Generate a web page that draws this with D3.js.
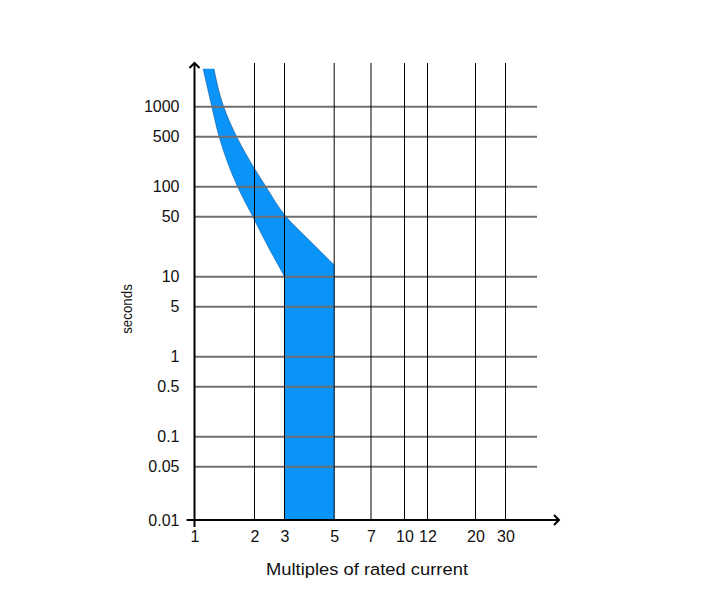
<!DOCTYPE html>
<html><head><meta charset="utf-8">
<script src="https://cdn.jsdelivr.net/npm/d3@7"></script>
<style>
body{margin:0;background:#fff}
svg{display:block}
text{font-family:"Liberation Sans",Arial,Helvetica,sans-serif;fill:#111}
</style>
</head><body><svg id="c" width="710" height="598"></svg>
<script>
// ---- data ----
const xTicks=[1,2,3,5,7,10,12,20,30];
const xTickLabels=["1","2","3","5","7","10","12","20","30"];
const yTicks=[0.01,0.05,0.1,0.5,1,5,10,50,100,500,1000];
const yTickLabels=["0.01","0.05","0.1","0.5","1","5","10","50","100","500","1000"];
// lower boundary of trip band (multiples, seconds)
const lowerX=[1.103,1.22,1.327,1.643,1.959,2.40,3];
const lowerY=[2400,1000,500,100,50,22.4,10];
// upper boundary of trip band
const upperX=[1.252,1.401,1.628,2.336,3.05,3.86,5];
const upperY=[2400,1000,500,100,50,26.8,13.7];
const minTime=0.01;
const xTitle="Multiples of rated current";
const yTitle="seconds";

// ---- layout ----
const xPos=[194.5,254.5,284.5,334.2,371,404.5,427.5,475.5,505.5];
const yPos=[520,466.7,436.7,386.7,356.7,306.7,276.7,216.7,186.7,136.7,106.7];
const plotTop=63, gridRight=537, xAxisEnd=559;

const svg=d3.select("#c");
const x=d3.scaleLog().domain(xTicks).range(xPos);
const y=d3.scaleLog().domain(yTicks).range(yPos);

// band
const lower=lowerX.map((v,i)=>[v,lowerY[i]]);
const upper=upperX.map((v,i)=>[v,upperY[i]]);
const lineGen=d3.line().x(d=>x(d[0])).y(d=>y(d[1])).curve(d3.curveMonotoneY);
const upRev=upper.slice().reverse();
let d=lineGen(lower)
 +"L"+x(lower[lower.length-1][0])+","+y(minTime)
 +"L"+x(upper[upper.length-1][0])+","+y(minTime)
 +"L"+x(upRev[0][0])+","+y(upRev[0][1])
 +lineGen(upRev).replace(/^M[^A-Za-z]*/,"")
 +"Z";
svg.append("path").attr("d",d).attr("fill","#0a94fa").attr("stroke","none");
svg.append("path").attr("d",lineGen(lower)).attr("fill","none").attr("stroke","rgba(0,40,90,0.4)").attr("stroke-width",0.8);
svg.append("path").attr("d",lineGen(upper)).attr("fill","none").attr("stroke","rgba(0,40,90,0.55)").attr("stroke-width",0.8);

// horizontal grid
svg.append("g").selectAll("line").data(yTicks.slice(1)).join("line")
 .attr("x1",x(1)).attr("x2",gridRight)
 .attr("y1",d=>y(d)).attr("y2",d=>y(d))
 .attr("stroke","#6f6f6f").attr("stroke-width",2);
// vertical grid
svg.append("g").selectAll("line").data(xTicks.slice(1)).join("line")
 .attr("x1",d=>x(d)).attr("x2",d=>x(d))
 .attr("y1",plotTop).attr("y2",y(minTime))
 .attr("stroke","#000").attr("stroke-width",1);

// axes lines
svg.append("line").attr("x1",x(1)).attr("x2",x(1)).attr("y1",y(minTime)+7).attr("y2",plotTop)
 .attr("stroke","#000").attr("stroke-width",2);
svg.append("line").attr("x1",x(1)-8).attr("x2",xAxisEnd).attr("y1",y(minTime)).attr("y2",y(minTime))
 .attr("stroke","#000").attr("stroke-width",2);
// arrowheads
svg.append("path").attr("d",`M${x(1)-5},${plotTop+5}L${x(1)},${plotTop}L${x(1)+5},${plotTop+5}`)
 .attr("fill","none").attr("stroke","#000").attr("stroke-width",2);
svg.append("path").attr("d",`M${xAxisEnd-5},${y(minTime)-5}L${xAxisEnd},${y(minTime)}L${xAxisEnd-5},${y(minTime)+5}`)
 .attr("fill","none").attr("stroke","#000").attr("stroke-width",2);

// tick labels via d3 axes
const gx=svg.append("g").attr("transform",`translate(0,${y(minTime)})`)
 .call(d3.axisBottom(x).tickValues(xTicks).tickFormat((d,i)=>xTickLabels[i]).tickSize(0).tickPadding(11));
gx.select(".domain").remove();
const gy=svg.append("g").attr("transform",`translate(${x(1)},0)`)
 .call(d3.axisLeft(y).tickValues(yTicks).tickFormat((d,i)=>yTickLabels[i]).tickSize(0).tickPadding(15));
gy.select(".domain").remove();
svg.selectAll("g").attr("font-family",null).attr("font-size",null);
svg.selectAll(".tick text").attr("font-size",16).style("fill","#111");

// titles
svg.append("text").attr("transform","translate(367,575) scale(1.08,1)").attr("text-anchor","middle").attr("font-size",17).text(xTitle);
svg.append("text").attr("transform","translate(131.5,309) rotate(-90) scale(0.86,1)").attr("text-anchor","middle").attr("font-size",15.5).text(yTitle);
</script>
</body></html>
